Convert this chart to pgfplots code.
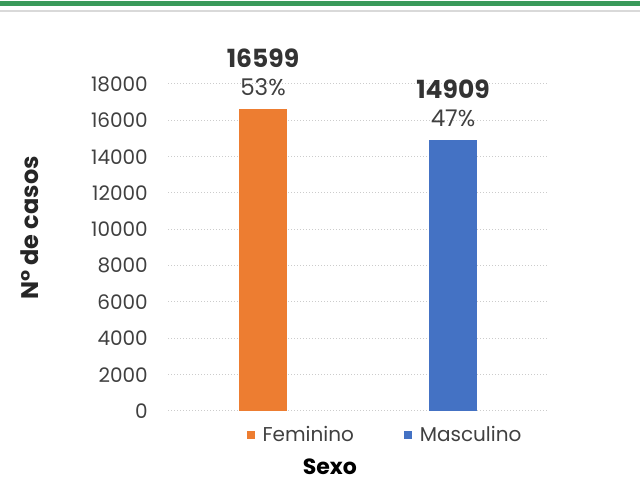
\documentclass[border=0pt]{standalone}
\usepackage{pgfplots}
\pgfplotsset{compat=1.18}
\usepackage{fontspec}
\setmainfont{Poppins}
\definecolor{tickc}{HTML}{404040}
\definecolor{topgreen}{HTML}{3A9A5A}
\definecolor{fem}{HTML}{ED7D31}
\definecolor{mas}{HTML}{4472C4}
\begin{document}
\begin{tikzpicture}[x=1pt,y=1pt]
\path[use as bounding box] (0,0) rectangle (640,495);
\fill[topgreen] (0,489) rectangle (640,493.5);
\fill[black!15] (0,483) rectangle (640,485);
\begin{axis}[
  at={(168pt,84pt)}, anchor=south west,
  scale only axis, width=380pt, height=327pt,
  xmin=-0.5, xmax=1.5, ymin=0, ymax=18000,
  ytick distance=2000, xtick=\empty,
  scaled y ticks=false,
  axis line style={draw=none},
  major tick length=0pt,
  ymajorgrids,
  grid style={black!20, line width=1pt, dash pattern=on 1pt off 2pt},
  yticklabel style={font=\fontsize{20}{22}\selectfont, text=tickc, anchor=east, inner sep=0pt, xshift=-20pt},
  /pgf/number format/.cd, 1000 sep={}, assume math mode=true, /pgfplots/.cd,
  ylabel={\textbf{N° de casos}},
  ylabel style={at={(axis description cs:-0.363,0.56)}, anchor=center, font=\fontsize{24}{26}\selectfont, text=black!85},
  xlabel={\textbf{Sexo}},
  xlabel style={at={(axis description cs:0.426,-0.171)}, anchor=center, font=\fontsize{22}{24}\selectfont, text=black},
  legend columns=2,
  legend style={at={(axis description cs:0.571,-0.073)}, anchor=center, draw=none, fill=none,
    font=\fontsize{20}{22}\selectfont, text=tickc,
    /tikz/every odd column/.append style={column sep=6pt},
    /tikz/every even column/.append style={column sep=48pt}},
  legend image code/.code={\fill[#1] (0pt,-4pt) rectangle (8pt,4pt);},
  every node near coord/.append style={align=center, text=tickc, anchor=south, inner sep=0pt, yshift=13.5pt, font=\fontsize{23}{27.5}\selectfont},
]
\addplot[ybar, bar width=48pt, bar shift=0pt, fill=fem, draw=none,
  nodes near coords={{\fontsize{25}{27.5}\selectfont\bfseries\color{black!80}16599}\\53\%}]
  coordinates {(0,16599)};
\addlegendentry{Feminino}
\addplot[ybar, bar width=48pt, bar shift=0pt, fill=mas, draw=none,
  nodes near coords={{\fontsize{25}{27.5}\selectfont\bfseries\color{black!80}14909}\\47\%}]
  coordinates {(1,14909)};
\addlegendentry{Masculino}
\end{axis}
\end{tikzpicture}
\end{document}
